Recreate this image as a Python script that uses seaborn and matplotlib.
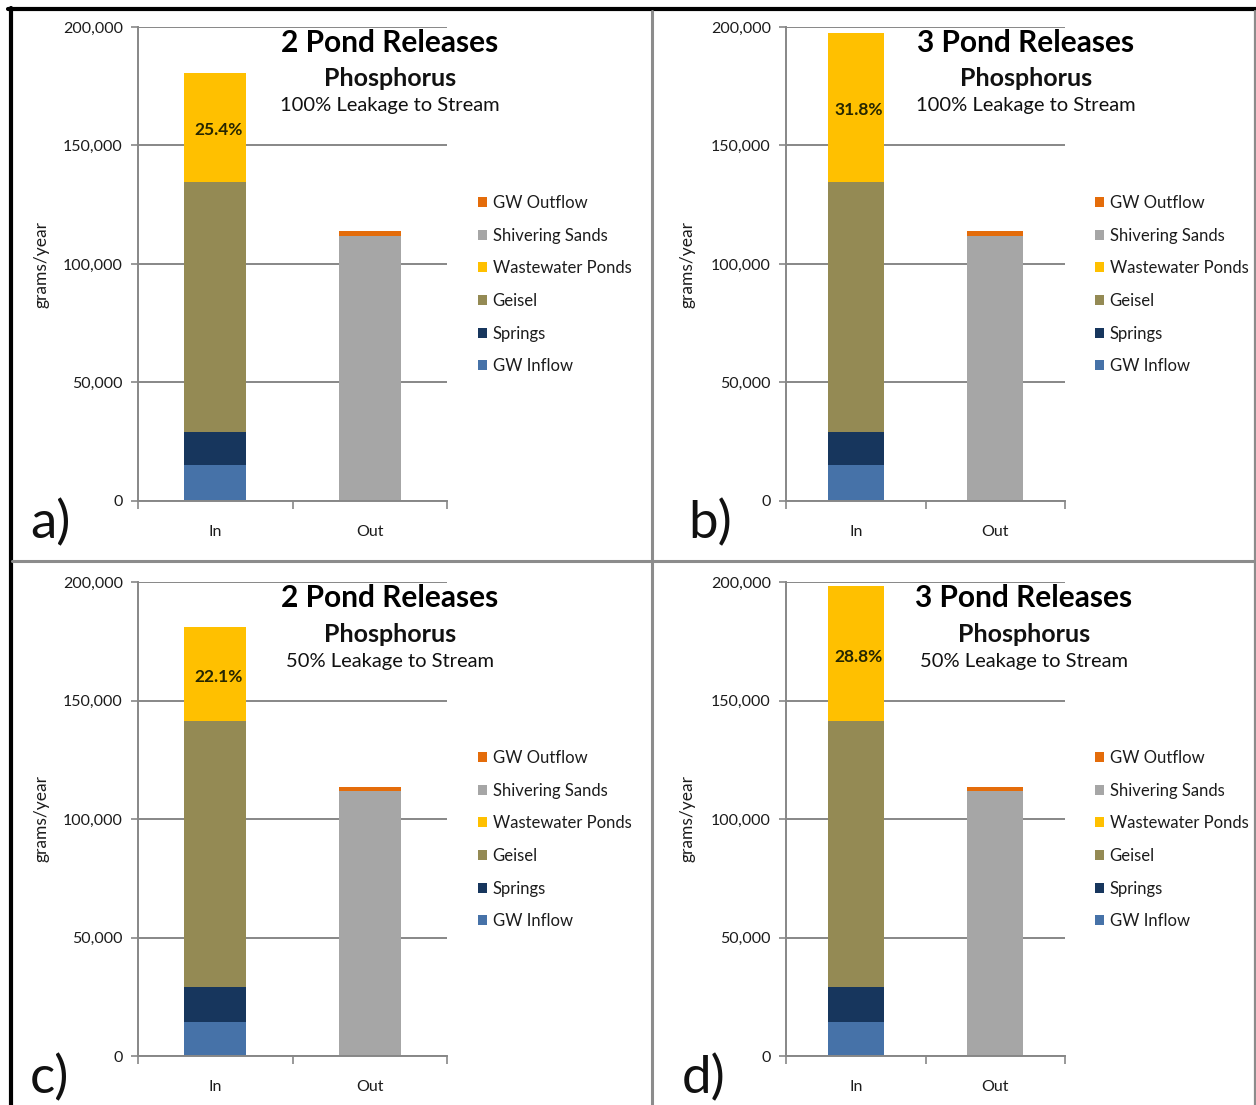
import matplotlib
matplotlib.use("Agg")
import matplotlib.pyplot as plt
from matplotlib.patches import Patch
from matplotlib.lines import Line2D
from matplotlib.ticker import FuncFormatter, FixedLocator
import seaborn as sns

# ---- data (grams/year); one entry per panel: a, b, c, d ----
categories = ["In", "Out"]
panel_letters = ["a)", "b)", "c)", "d)"]
release_titles = ["2 Pond Releases", "3 Pond Releases", "2 Pond Releases", "3 Pond Releases"]
nutrient_titles = ["Phosphorus", "Phosphorus", "Phosphorus", "Phosphorus"]
leakage_titles = ["100% Leakage to Stream", "100% Leakage to Stream",
                  "50% Leakage to Stream", "50% Leakage to Stream"]

gw_inflow = [15300, 15300, 14500, 14500]
springs = [13700, 13700, 14500, 14500]
geisel = [105800, 105800, 112150, 112150]
wastewater_ponds = [45900, 62850, 40050, 57100]
shivering_sands = [111800, 111800, 111850, 111850]
gw_outflow = [2300, 2300, 1700, 1700]

yticks = [0, 50000, 100000, 150000, 200000]

colors = {
    "GW Inflow": "#4672A8",
    "Springs": "#17365D",
    "Geisel": "#948A54",
    "Wastewater Ponds": "#FFC000",
    "Shivering Sands": "#A6A6A6",
    "GW Outflow": "#E46C0A",
}
legend_order = ["GW Outflow", "Shivering Sands", "Wastewater Ponds",
                "Geisel", "Springs", "GW Inflow"]

sns.set_style("white")
plt.rcParams["font.family"] = ["Lato", "DejaVu Sans"]

W, H = 1256, 1105
fig = plt.figure(figsize=(W / 100, H / 100), dpi=100)
fig.patch.set_facecolor("white")


def fx(px):
    return px / W


def fy(py):
    return 1 - py / H


grid_col = "#878787"
text_col = "#1c1c1c"

# axes frames in pixel units: left, right, top(200k), bottom(0)
frames = [(138, 447, 27, 501), (786, 1065, 27, 501),
          (138, 447, 582, 1056), (786, 1065, 582, 1056)]
title_x = [390, 1026, 390, 1024]
legend_x = [478, 1095, 478, 1095]
ylabel_x = [42, 688, 42, 688]
letter_x = [30, 688, 30, 682]

for i in range(4):
    left, right, top, bottom = frames[i]
    ax = fig.add_axes([fx(left), fy(bottom), fx(right - left), (bottom - top) / H])
    ax.set_axisbelow(True)

    in_layers = [("GW Inflow", gw_inflow[i]), ("Springs", springs[i]),
                 ("Geisel", geisel[i]), ("Wastewater Ponds", wastewater_ponds[i])]
    out_layers = [("Shivering Sands", shivering_sands[i]), ("GW Outflow", gw_outflow[i])]

    # stacked bars: each layer drawn on top of the running total per category
    layers = [(name, [v, 0]) for name, v in in_layers] + \
             [(name, [0, v]) for name, v in out_layers]
    running = [0, 0]
    for name, heights in layers:
        sns.barplot(x=categories, y=heights, bottom=list(running), color=colors[name],
                    width=0.4, saturation=1, linewidth=0, ax=ax)
        running = [running[0] + heights[0], running[1] + heights[1]]

    # share of the inflow total coming from the wastewater ponds
    base_in = gw_inflow[i] + springs[i] + geisel[i]
    total_in = base_in + wastewater_ponds[i]
    share = wastewater_ponds[i] / total_in
    ax.text(0.02, base_in + wastewater_ponds[i] / 2 - 1200, f"{share * 100:.1f}%",
            ha="center", va="center", fontsize=12.5, fontweight="bold", color="#262600")

    ax.set_xlim(-0.5, 1.5)
    ax.set_ylim(0, 200000)
    ax.set_yticks(yticks)
    ax.yaxis.set_major_formatter(FuncFormatter(lambda v, p: f"{int(v):,}"))
    ax.yaxis.grid(True, color=grid_col, linewidth=1.4)
    ax.xaxis.grid(False)
    ax.set_xlabel("")
    ax.set_ylabel("")
    for s in ["top", "right"]:
        ax.spines[s].set_visible(False)
    for s in ["left", "bottom"]:
        ax.spines[s].set_color(grid_col)
        ax.spines[s].set_linewidth(1.4)
    ax.tick_params(axis="y", which="major", direction="out", length=5, width=1.2,
                   color=grid_col, pad=6, labelsize=11.5, labelcolor=text_col, left=True)
    ax.tick_params(axis="x", which="major", length=0, pad=17, labelsize=11.5,
                   labelcolor=text_col)
    ax.xaxis.set_minor_locator(FixedLocator([-0.5, 0.5, 1.5]))
    ax.tick_params(axis="x", which="minor", direction="out", length=6, width=1.2,
                   color=grid_col, bottom=True)

    ty = top + 16
    fig.text(fx(title_x[i]), fy(ty), release_titles[i], ha="center", va="center",
             fontsize=21.5, fontweight="bold", color="black")
    fig.text(fx(title_x[i]), fy(ty + 36), nutrient_titles[i], ha="center", va="center",
             fontsize=18, fontweight="bold", color="#111111")
    fig.text(fx(title_x[i]), fy(ty + 63), leakage_titles[i], ha="center", va="center",
             fontsize=14.5, color="#111111")

    fig.text(fx(ylabel_x[i]), fy(top + 237), "grams/year", rotation=90,
             ha="center", va="center", fontsize=12.5, color=text_col)

    fig.text(fx(letter_x[i]), fy(bottom + 37), panel_letters[i], ha="left",
             va="baseline", fontsize=38, color="#111111")

    handles = [Patch(facecolor=colors[n], edgecolor="none") for n in legend_order]
    ax.legend(handles, legend_order, loc="upper left",
              bbox_to_anchor=(fx(legend_x[i]), fy(top + 168)),
              bbox_transform=fig.transFigure, frameon=False, fontsize=12,
              handlelength=0.55, handleheight=0.55, handletextpad=0.33,
              labelspacing=1.0, borderpad=0, borderaxespad=0,
              labelcolor=text_col)

# panel frame lines
fig.add_artist(Line2D([fx(8), 1], [fy(9), fy(9)], transform=fig.transFigure,
                      color="black", linewidth=3))
fig.add_artist(Line2D([fx(10.5), fx(10.5)], [fy(8), 0], transform=fig.transFigure,
                      color="black", linewidth=3))
fig.add_artist(Line2D([fx(651.5), fx(651.5)], [fy(11), 0], transform=fig.transFigure,
                      color="#8c8c8c", linewidth=2.2))
fig.add_artist(Line2D([fx(12), 1], [fy(560.5), fy(560.5)], transform=fig.transFigure,
                      color="#8c8c8c", linewidth=2.2))
fig.add_artist(Line2D([fx(1254.5), fx(1254.5)], [fy(11), 0], transform=fig.transFigure,
                      color="#8c8c8c", linewidth=1.6))

fig.savefig("out.png", dpi=100, facecolor="white")
